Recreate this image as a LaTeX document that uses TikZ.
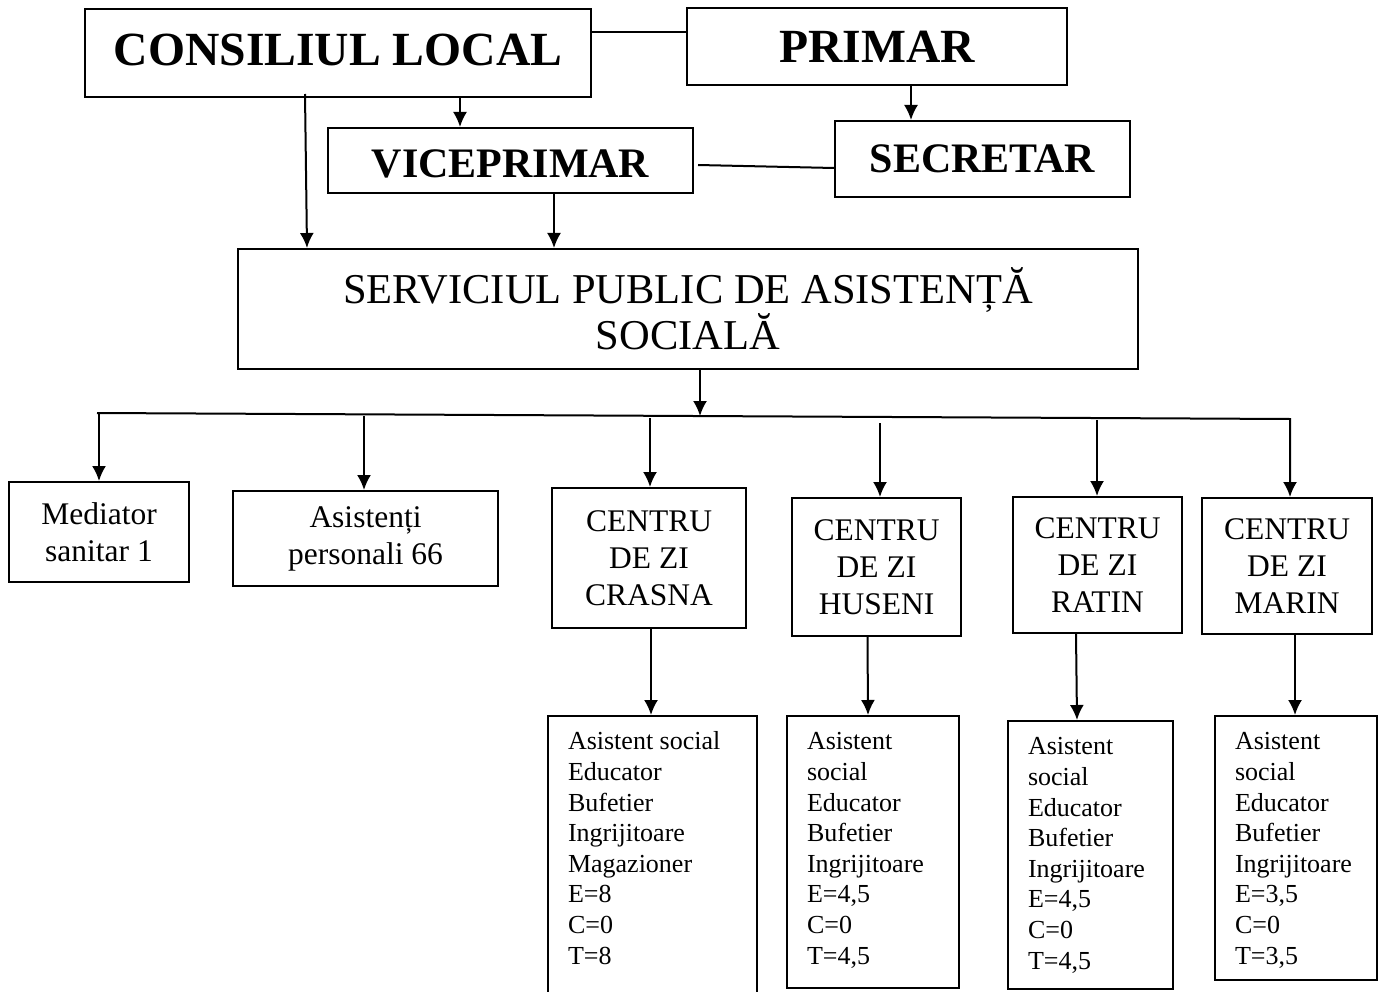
\documentclass[tikz,border=0pt]{standalone}
\usepackage{fontspec}
\setmainfont{Liberation Serif}
\usepackage{tikz}
\usetikzlibrary{arrows.meta, positioning}

\newcommand{\posturi}[3]{\hspace*{20pt}\parbox[c][#2][t]{#1}{\vspace*{12.5pt}\strut #3}}

\begin{document}
\begin{tikzpicture}[
    x=1pt, y=-1pt,
    line width=2pt,
    >={Latex[length=15pt,width=14pt]},
    head/.style={draw, inner sep=0pt, font=\fontsize{47.6}{52}\selectfont\bfseries},
    sub/.style={draw, inner sep=0pt, font=\fontsize{42}{46}\selectfont\bfseries},
    serv/.style={draw, inner sep=0pt, align=center, font=\fontsize{42.5}{46}\selectfont},
    unit/.style={draw, inner sep=0pt, align=center, font=\fontsize{31.5}{37}\selectfont},
    staff/.style={draw, inner sep=0pt, font=\fontsize{26}{30.6}\selectfont}
]
    \clip (0,0) rectangle (1380,992);

    % Conducere
    \node (cl) [head, minimum width=506pt, minimum height=88pt, text depth=7.5pt] at (338,53) {CONSILIUL LOCAL};
    \node (primar) [head, minimum width=380pt, minimum height=77pt] at (877,46.5) {PRIMAR};
    \node (vice) [sub, minimum width=365pt, minimum height=65pt, text height=35pt] at (510.5,160.5) {VICEPRIMAR};
    \node (secretar) [sub, minimum width=295pt, minimum height=76pt] at (982.5,159) {SECRETAR};
    \node (serv) [serv, minimum width=900pt, minimum height=120pt] at (688,309) {SERVICIUL PUBLIC DE ASISTENȚĂ\\SOCIALĂ};

    % Compartimente
    \node (med) [unit, minimum width=180pt, minimum height=100pt] at (99,532) {Mediator\\sanitar 1};
    \node (asis) [unit, minimum width=265pt, minimum height=95pt] at (365.5,538.5) {Asistenți\\personali 66};
    \node (crasna) [unit, minimum width=194pt, minimum height=140pt] at (649,558) {CENTRU\\DE ZI\\CRASNA};
    \node (huseni) [unit, minimum width=169pt, minimum height=138pt] at (876.5,567) {CENTRU\\DE ZI\\HUSENI};
    \node (ratin) [unit, minimum width=169pt, minimum height=136pt] at (1097.5,565) {CENTRU\\DE ZI\\RATIN};
    \node (marin) [unit, minimum width=170pt, minimum height=136pt] at (1287,566) {CENTRU\\DE ZI\\MARIN};

    % Personal centre
    \node (dcrasna) [staff, below=86pt of crasna, xshift=3.5pt] {\posturi{189pt}{300pt}{Asistent social\\Educator\\Bufetier\\Ingrijitoare\\Magazioner\\E=8\\C=0\\T=8}};
    \node (dhuseni) [staff, below=78pt of huseni, xshift=-3.5pt] {\posturi{152pt}{272pt}{Asistent\\social\\Educator\\Bufetier\\Ingrijitoare\\E=4,5\\C=0\\T=4,5}};
    \node (dratin) [staff, below=86pt of ratin, xshift=-7pt] {\posturi{145pt}{268pt}{Asistent\\social\\Educator\\Bufetier\\Ingrijitoare\\E=4,5\\C=0\\T=4,5}};
    \node (dmarin) [staff, below=80pt of marin, xshift=9pt] {\posturi{142pt}{264pt}{Asistent\\social\\Educator\\Bufetier\\Ingrijitoare\\E=3,5\\C=0\\T=3,5}};

    % Legaturi sus
    \draw ([yshift=21pt]cl.east) -- ([yshift=14.5pt]primar.west);
    \draw[->] ([xshift=122pt]cl.south) -- ([xshift=-50.5pt]vice.north);
    \draw[->] ([xshift=-33pt, yshift=4pt]cl.south) -- ([xshift=-381pt]serv.north);
    \draw[->] ([xshift=43.5pt]vice.south) -- ([xshift=-134pt]serv.north);
    \draw[->] ([xshift=34pt]primar.south) -- ([xshift=-71.5pt]secretar.north);
    \draw ([xshift=4pt, yshift=-4.5pt]vice.east) -- ([yshift=-9pt]secretar.west);

    % Bara de distributie
    \coordinate (hub) at (700,416);
    \coordinate (busL) at (97,413);
    \coordinate (busR) at (1290,419);
    \draw[->] (serv.south -| hub) -- (hub);
    \draw[->] (busL) -- (busR) -- (busR |- marin.north);

    \coordinate (dmed) at (99,413);
    \coordinate (dasis) at (364,416);
    \coordinate (dcra) at (650,418);
    \coordinate (dhus) at (880,423);
    \coordinate (drat) at (1097,420);
    \draw[->] (dmed) -- (dmed |- med.north);
    \draw[->] (dasis) -- (dasis |- asis.north);
    \draw[->] (dcra) -- (dcra |- crasna.north);
    \draw[->] (dhus) -- (dhus |- huseni.north);
    \draw[->] (drat) -- (drat |- ratin.north);

    % Legaturi jos
    \draw[->] ([xshift=2pt]crasna.south) -- ([xshift=-1.5pt]dcrasna.north);
    \draw[->] ([xshift=-9pt]huseni.south) -- ([xshift=-5pt]dhuseni.north);
    \draw[->] ([xshift=-21.5pt]ratin.south) -- ([xshift=-13.5pt]dratin.north);
    \draw[->] ([xshift=8pt]marin.south) -- ([xshift=-1pt]dmarin.north);

\end{tikzpicture}
\end{document}
